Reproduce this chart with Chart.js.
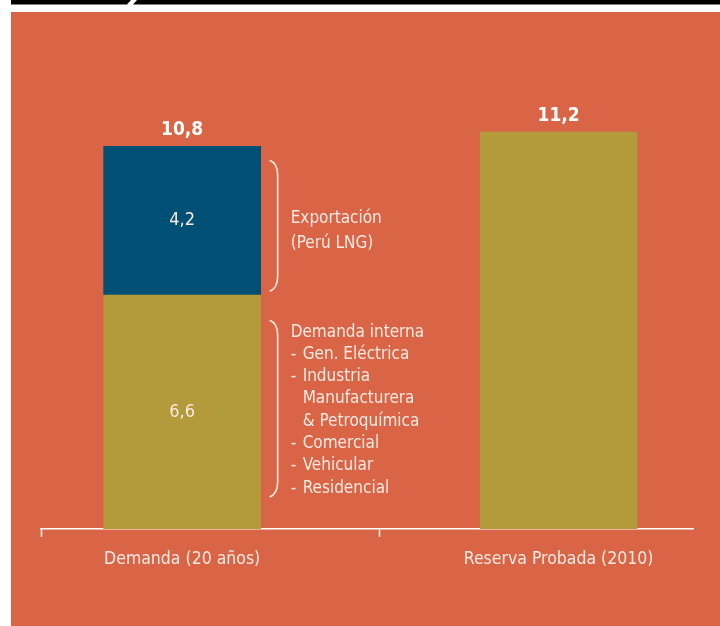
<!DOCTYPE html>
<html>
<head>
<meta charset="utf-8">
<script src="https://cdn.jsdelivr.net/npm/chart.js@4"></script>
<style>
  html, body { margin: 0; padding: 0; background: #fff; }
  #wrap { width: 720px; height: 626px; }
</style>
</head>
<body>
<div id="wrap"><canvas id="chart" width="720" height="626"></canvas></div>
<script>
// ── DATA ──
const categories = ['Demanda (20 años)', 'Reserva Probada (2010)'];
const xPos = [0, 1];
const demandaInterna = [6.6, null];
const exportacion = [4.2, null];
const reservaProbada = [null, 11.2];
const totals = [10.8, 11.2];
const exportNote = ['Exportación', '(Perú LNG)'];
const internaNote = ['Demanda interna', '- Gen. Eléctrica', '- Industria', '  Manufacturera', '  & Petroquímica', '- Comercial', '- Vehicular', '- Residencial'];

// ── COLORS / FONTS ──
const ORANGE = '#DA6446', OLIVE = '#B39A3B', BLUE = '#004F74', TEXT = '#FBEAE2';
const FONT = "'Liberation Sans Narrow', 'DejaVu Sans Condensed', sans-serif";

const fmt = v => v.toFixed(1).replace('.', ',');
const toPoints = arr => arr.map((v, i) => ({x: xPos[i], y: v})).filter(p => p.y !== null);

// page background, black top band and orange panel
const backdrop = {
    id: 'backdrop',
    beforeDraw: (chart) => {
        const ctx = chart.ctx;
        ctx.save();
        ctx.fillStyle = '#fff';
        ctx.fillRect(0, 0, chart.width, chart.height);
        ctx.fillStyle = ORANGE;
        ctx.fillRect(11, 12, chart.width - 11, chart.height - 12);
        ctx.fillStyle = '#000';
        ctx.beginPath();
        ctx.moveTo(11, 0); ctx.lineTo(131, 0); ctx.lineTo(127, 4.5); ctx.lineTo(11, 4.5);
        ctx.closePath(); ctx.fill();
        ctx.beginPath();
        ctx.moveTo(137, 0); ctx.lineTo(chart.width, 0); ctx.lineTo(chart.width, 4.5); ctx.lineTo(133, 4.5);
        ctx.closePath(); ctx.fill();
        ctx.restore();
    }
};

// value labels, brackets and side notes
const labels = {
    id: 'labels',
    afterDatasetsDraw: (chart) => {
        const ctx = chart.ctx;
        ctx.save();
        ctx.textAlign = 'center';
        ctx.textBaseline = 'middle';

        // inner segment labels
        chart.data.datasets.forEach((ds, i) => {
            if (!ds.inner) return;
            chart.getDatasetMeta(i).data.forEach((bar, j) => {
                ctx.fillStyle = TEXT;
                ctx.font = `18px ${FONT}`;
                ctx.fillText(fmt(ds.data[j].y), bar.x, (bar.y + bar.base) / 2);
            });
        });

        // totals above each stack
        totals.forEach((t, j) => {
            let top = Infinity, cx = 0;
            chart.data.datasets.forEach((ds, i) => {
                chart.getDatasetMeta(i).data.forEach((bar, k) => {
                    if (ds.data[k].x === xPos[j] && bar.y < top) { top = bar.y; cx = bar.x; }
                });
            });
            ctx.fillStyle = '#fff';
            ctx.font = `bold 19px ${FONT}`;
            ctx.fillText(fmt(t), cx, top - 16);
        });

        // brackets
        const bracket = (x, y1, y2) => {
            ctx.beginPath();
            ctx.moveTo(x, y1);
            ctx.quadraticCurveTo(x + 8, y1 + 3, x + 8, y1 + 15);
            ctx.lineTo(x + 8, y2 - 15);
            ctx.quadraticCurveTo(x + 8, y2 - 3, x, y2);
            ctx.stroke();
        };
        const exp = chart.getDatasetMeta(1).data[0];
        const dem = chart.getDatasetMeta(0).data[0];
        const bx = exp.x + exp.width / 2 + 9;
        ctx.strokeStyle = TEXT;
        ctx.lineWidth = 1.6;
        bracket(bx, exp.y + 14, exp.base - 4);
        bracket(bx, dem.y + 25, dem.base - 32);

        // notes
        ctx.textAlign = 'left';
        ctx.fillStyle = TEXT;
        ctx.font = `17px ${FONT}`;
        const tx = bx + 21;
        const expMid = (exp.y + exp.base) / 2;
        exportNote.forEach((line, n) => ctx.fillText(line, tx, expMid - 2 + n * 25));
        const demMid = (dem.y + dem.base) / 2;
        internaNote.forEach((line, n) => {
            const y = demMid - 80 + n * 22.3;
            if (line.startsWith('- ')) {
                ctx.fillText('-', tx, y);
                ctx.fillText(line.slice(2), tx + 12, y);
            } else if (line.startsWith('  ')) {
                ctx.fillText(line.trim(), tx + 12, y);
            } else {
                ctx.fillText(line, tx, y);
            }
        });
        ctx.restore();
    }
};

new Chart(document.getElementById('chart'), {
    type: 'bar',
    data: {
        datasets: [
            {label: 'Demanda interna', data: toPoints(demandaInterna), backgroundColor: OLIVE, inner: true},
            {label: 'Exportación', data: toPoints(exportacion), backgroundColor: BLUE, inner: true},
            {label: 'Reserva Probada', data: toPoints(reservaProbada), backgroundColor: OLIVE}
        ]
    },
    options: {
        responsive: false, animation: false,
        barThickness: 157,
        layout: {padding: {left: 41, right: 27, top: 33, bottom: 44}},
        plugins: {legend: {display: false}, tooltip: {enabled: false}},
        scales: {
            x: {
                type: 'linear', min: -0.375, max: 1.357, offset: false, stacked: true,
                afterBuildTicks: s => { s.ticks = [-0.375, 0, 0.523, 1].map(v => ({value: v})); },
                grid: {
                    offset: false, drawOnChartArea: false, drawTicks: true, tickLength: 8, tickWidth: 1.5,
                    tickColor: c => (c.tick && (c.tick.value === 0 || c.tick.value === 1)) ? 'rgba(0,0,0,0)' : '#fff'
                },
                border: {display: true, color: '#fff', width: 1.5},
                ticks: {
                    autoSkip: false, maxRotation: 0, padding: 12, color: TEXT,
                    font: {family: FONT, size: 17.5},
                    callback: v => v === 0 ? categories[0] : v === 1 ? categories[1] : ''
                }
            },
            y: {display: false, stacked: true, min: 0, max: 14}
        }
    },
    plugins: [backdrop, labels]
});
</script>
</body>
</html>
